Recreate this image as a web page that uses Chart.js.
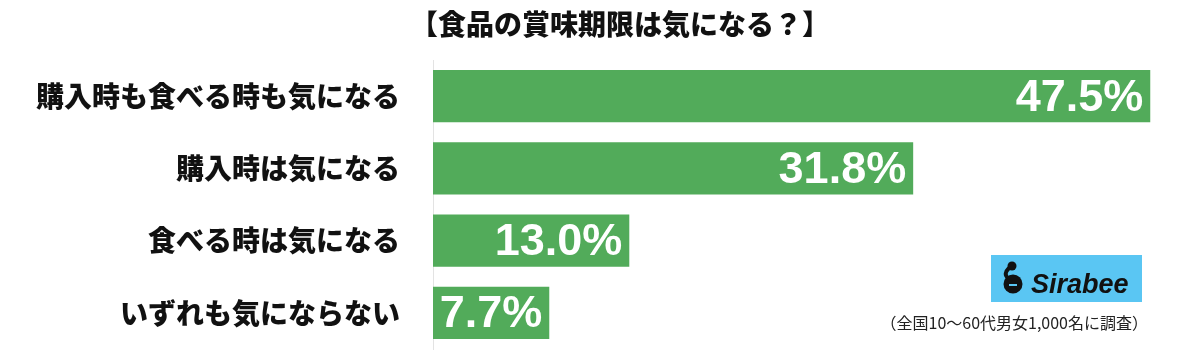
<!DOCTYPE html>
<html lang="ja">
<head>
<meta charset="utf-8">
<script src="https://cdn.jsdelivr.net/npm/chart.js@4/dist/chart.umd.min.js"></script>
<style>
  html, body { margin: 0; padding: 0; background: #fff; }
  #wrap { width: 1200px; height: 354px; position: relative; }
</style>
</head>
<body>
<div id="wrap"><canvas id="barChart"></canvas></div>
<script>
// 食品の賞味期限は気になる？
const titleText = '【食品の賞味期限は気になる？】';
const noteText = '（全国10〜60代男女1,000名に調査）';
const categories = ['購入時も食べる時も気になる', '購入時は気になる', '食べる時は気になる', 'いずれも気にならない'];
const values = [47.5, 31.8, 13.0, 7.7];

const jpFont = '"Noto Sans CJK JP", "Noto Sans", sans-serif';

// タイトル・注記・ロゴ
const decorPlugin = {
    id: 'decor',
    afterDraw(chart) {
        const ctx = chart.ctx;
        ctx.save();
        ctx.fillStyle = '#111';
        ctx.font = '900 28px ' + jpFont;
        ctx.textAlign = 'center';
        ctx.textBaseline = 'middle';
        ctx.fillText(titleText, 620, 24);

        ctx.fillStyle = '#222';
        ctx.font = '16px ' + jpFont;
        ctx.textAlign = 'right';
        ctx.fillText(noteText, 1148, 323);

        // Sirabee ロゴ
        ctx.fillStyle = '#5ac6f3';
        ctx.fillRect(991, 255, 151, 47);
        ctx.fillStyle = '#111';
        ctx.beginPath();
        ctx.arc(1013, 284, 9.5, 0, Math.PI * 2);
        ctx.fill();
        ctx.beginPath();
        ctx.arc(1012, 266, 4.5, 0, Math.PI * 2);
        ctx.fill();
        ctx.lineWidth = 4;
        ctx.strokeStyle = '#111';
        ctx.beginPath();
        ctx.moveTo(1009, 268);
        ctx.quadraticCurveTo(1003, 274, 1008, 278);
        ctx.stroke();
        ctx.fillStyle = '#5ac6f3';
        ctx.fillRect(1009, 284, 8, 2);
        ctx.fillStyle = '#111';
        ctx.font = 'italic bold 27px "Liberation Sans", Arial, sans-serif';
        ctx.textAlign = 'left';
        ctx.textBaseline = 'alphabetic';
        ctx.fillText('Sirabee', 1031, 293);
        ctx.restore();
    }
};

// バー内の数値ラベル
const valueLabelPlugin = {
    id: 'valueLabels',
    afterDatasetsDraw(chart) {
        const ctx = chart.ctx;
        const meta = chart.getDatasetMeta(0);
        ctx.save();
        ctx.fillStyle = '#fff';
        ctx.font = 'bold 45px "Liberation Sans", Arial, sans-serif';
        ctx.textAlign = 'right';
        ctx.textBaseline = 'middle';
        meta.data.forEach((bar, i) => {
            ctx.fillText(values[i].toFixed(1) + '%', bar.x - 7, bar.y + 2);
        });
        ctx.restore();
    }
};

const barChartContext = document.getElementById('barChart').getContext('2d');
const barChart = new Chart(barChartContext, {
    type: 'bar',
    data: {
        labels: categories,
        datasets: [{
            data: values,
            backgroundColor: '#52ab5a',
            borderWidth: 0,
            barPercentage: 0.72,
            categoryPercentage: 1
        }]
    },
    options: {
        indexAxis: 'y',
        responsive: true,
        maintainAspectRatio: false,
        animation: false,
        layout: { padding: { top: 60, bottom: 5, left: 0, right: 12 } },
        plugins: {
            legend: { display: false },
            tooltip: { enabled: false },
            title: { display: false }
        },
        scales: {
            x: {
                display: false,
                min: 0,
                max: 50
            },
            y: {
                afterFit(scale) {
                    scale.width = 433;
                    scale.paddingTop = 0;
                    scale.paddingBottom = 0;
                },
                grid: { display: false, drawTicks: false },
                border: { display: true, color: '#e3e3e3', width: 1 },
                ticks: {
                    padding: 33,
                    color: '#111',
                    font: { family: jpFont, size: 28, weight: '900' }
                }
            }
        }
    },
    plugins: [valueLabelPlugin, decorPlugin]
});
</script>
</body>
</html>
